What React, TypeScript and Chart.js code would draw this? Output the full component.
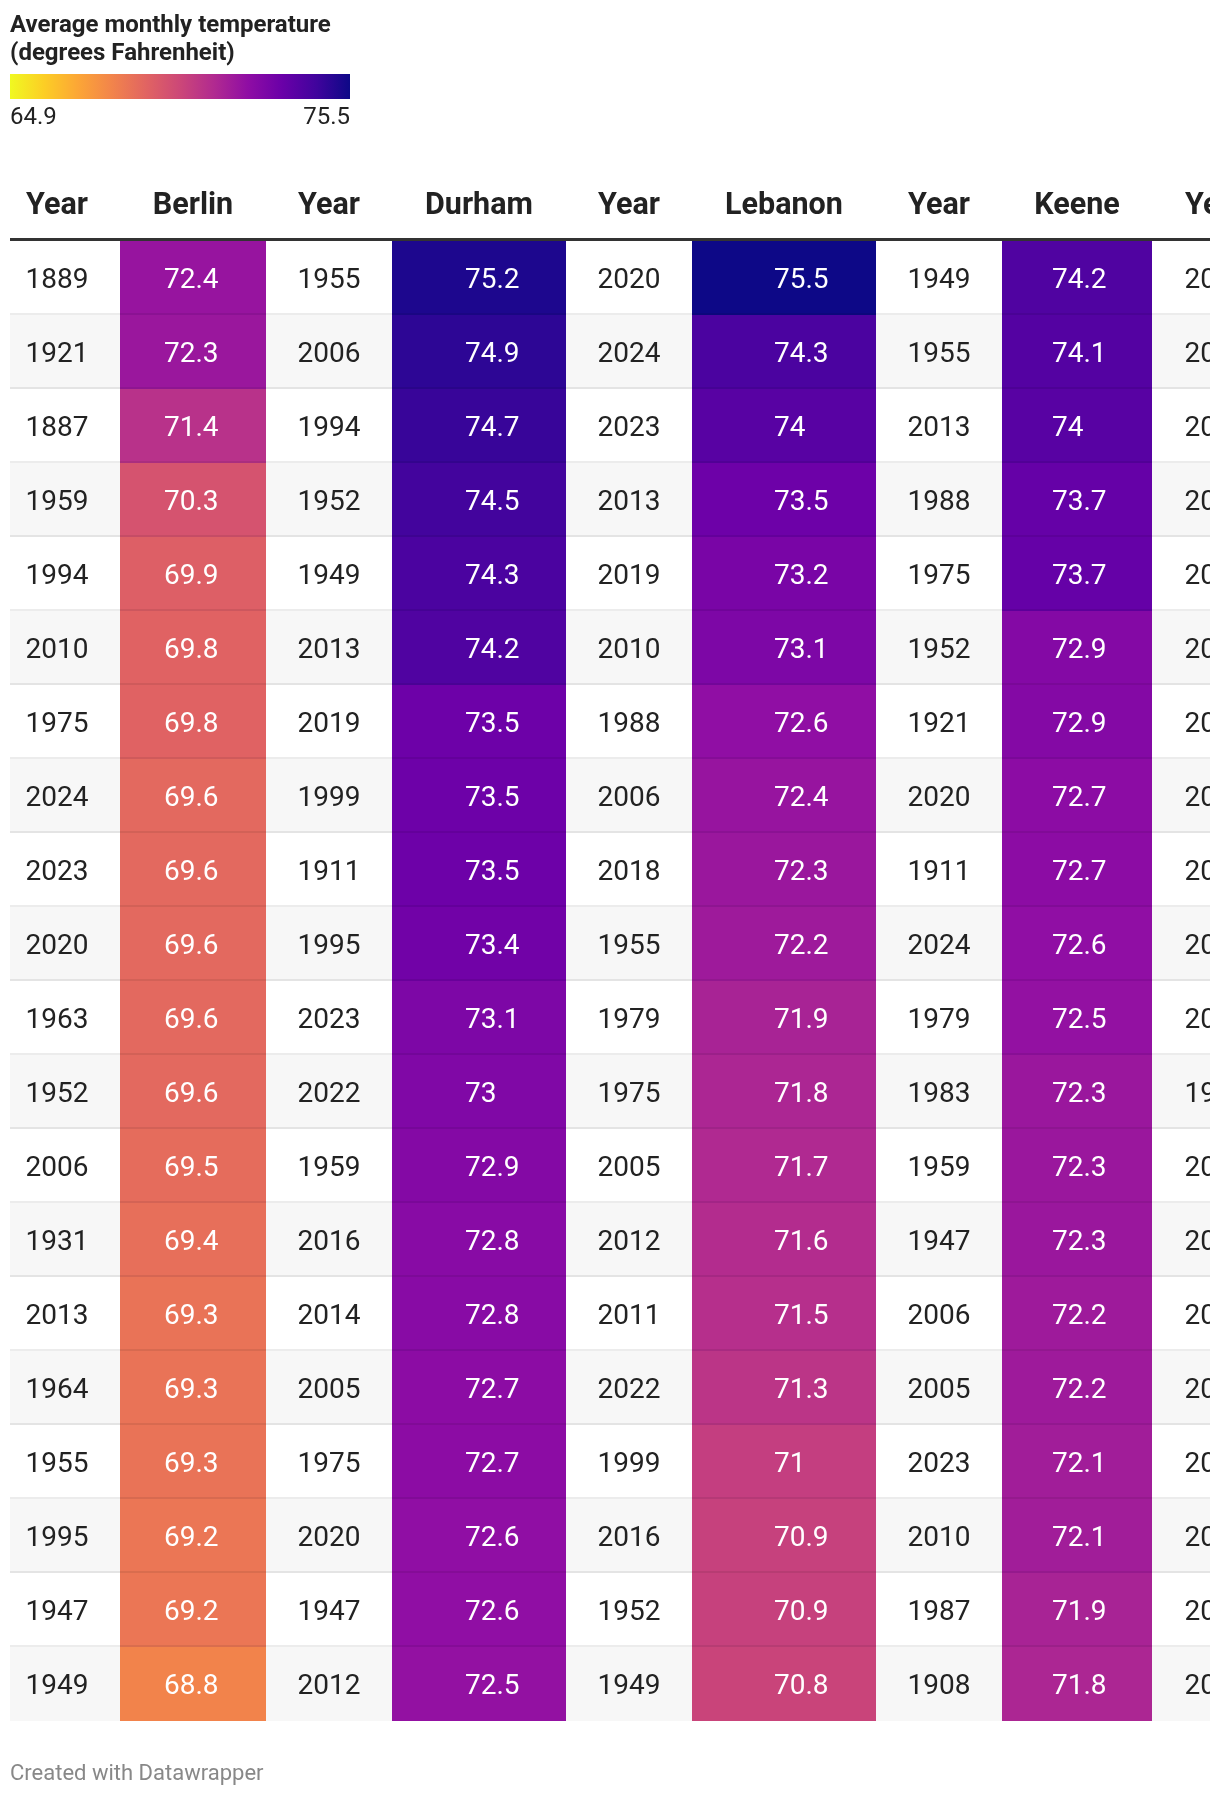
import React, { useEffect, useRef } from "react";
import { Chart, registerables } from "chart.js";

Chart.register(...registerables);

// ---------------- DATA ----------------
const CITY_NAMES = ["Berlin", "Durham", "Lebanon", "Keene"];

const YEARS_1 = [1889, 1921, 1887, 1959, 1994, 2010, 1975, 2024, 2023, 2020, 1963, 1952, 2006, 1931, 2013, 1964, 1955, 1995, 1947, 1949];
const BERLIN = [72.4, 72.3, 71.4, 70.3, 69.9, 69.8, 69.8, 69.6, 69.6, 69.6, 69.6, 69.6, 69.5, 69.4, 69.3, 69.3, 69.3, 69.2, 69.2, 68.8];

const YEARS_2 = [1955, 2006, 1994, 1952, 1949, 2013, 2019, 1999, 1911, 1995, 2023, 2022, 1959, 2016, 2014, 2005, 1975, 2020, 1947, 2012];
const DURHAM = [75.2, 74.9, 74.7, 74.5, 74.3, 74.2, 73.5, 73.5, 73.5, 73.4, 73.1, 73, 72.9, 72.8, 72.8, 72.7, 72.7, 72.6, 72.6, 72.5];

const YEARS_3 = [2020, 2024, 2023, 2013, 2019, 2010, 1988, 2006, 2018, 1955, 1979, 1975, 2005, 2012, 2011, 2022, 1999, 2016, 1952, 1949];
const LEBANON = [75.5, 74.3, 74, 73.5, 73.2, 73.1, 72.6, 72.4, 72.3, 72.2, 71.9, 71.8, 71.7, 71.6, 71.5, 71.3, 71, 70.9, 70.9, 70.8];

const YEARS_4 = [1949, 1955, 2013, 1988, 1975, 1952, 1921, 2020, 1911, 2024, 1979, 1983, 1959, 1947, 2006, 2005, 2023, 2010, 1987, 1908];
const KEENE = [74.2, 74.1, 74, 73.7, 73.7, 72.9, 72.9, 72.7, 72.7, 72.6, 72.5, 72.3, 72.3, 72.3, 72.2, 72.2, 72.1, 72.1, 71.9, 71.8];

// fifth year column: only the first digits are visible (clipped)
const YEARS_5 = [2020, 2024, 2023, 2013, 2019, 2010, 2006, 2018, 2022, 2005, 2012, 1999, 2016, 2011, 2014, 2015, 2021, 2017, 2007, 2008];

const LEGEND_MIN = 64.9;
const LEGEND_MAX = 75.5;

// ---------------- LAYOUT / STYLE ----------------
const W = 1220;
const H = 1796;
const TABLE_LEFT = 10;
const TABLE_RIGHT = 1210;
const TABLE_TOP = 241;
const TABLE_BOTTOM = 1721;

const YEAR_COLS = [
  { x0: 10, x1: 120, cx: 57 },
  { x0: 266, x1: 392, cx: 329 },
  { x0: 566, x1: 692, cx: 629 },
  { x0: 876, x1: 1002, cx: 939 },
  { x0: 1152, x1: 1280, cx: 1216 },
];
const CITY_COLS = [
  { x0: 120, x1: 266, cx: 193, tx: 164 },
  { x0: 392, x1: 566, cx: 479, tx: 465 },
  { x0: 692, x1: 876, cx: 784, tx: 774 },
  { x0: 1002, x1: 1152, cx: 1077, tx: 1052 },
];

const PLASMA = ["#0d0887", "#41049d", "#6a00a8", "#8f0da4", "#b12a90", "#cc4778", "#e16462", "#f2844b", "#fca636", "#fcce25", "#f0f921"];
const COLOR_SPAN = 9.6;

function hexToRgb(h: string) {
  const n = parseInt(h.slice(1), 16);
  return [(n >> 16) & 255, (n >> 8) & 255, n & 255];
}
function plasma(t: number) {
  const tt = Math.max(0, Math.min(1, t)) * (PLASMA.length - 1);
  const i = Math.min(PLASMA.length - 2, Math.floor(tt));
  const f = tt - i;
  const a = hexToRgb(PLASMA[i]);
  const b = hexToRgb(PLASMA[i + 1]);
  const c = a.map((v, k) => Math.round(v + (b[k] - v) * f));
  return `rgb(${c[0]},${c[1]},${c[2]})`;
}
function colorFor(v: number) {
  return plasma((LEGEND_MAX - v) / COLOR_SPAN);
}

const ROWS = YEARS_1.map((_, i) => String(i + 1));
const YEAR_LISTS = [YEARS_1, YEARS_2, YEARS_3, YEARS_4, YEARS_5];
const CITY_LISTS = [BERLIN, DURHAM, LEBANON, KEENE];

const tablePlugin = {
  id: "tableText",
  afterDatasetsDraw(chart: any) {
    const { ctx, chartArea, scales } = chart;
    const y = scales.y;
    const x = scales.x;
    const n = ROWS.length;
    ctx.save();
    // row separators
    ctx.fillStyle = "rgba(0,0,0,0.075)";
    for (let i = 1; i < n; i++) {
      const yb = (y.getPixelForValue(i - 1) + y.getPixelForValue(i)) / 2;
      ctx.fillRect(chartArea.left, Math.round(yb) - 2, chartArea.right - chartArea.left, 2);
    }
    // header rule
    ctx.fillStyle = "#333333";
    ctx.fillRect(chartArea.left, chartArea.top - 3, chartArea.right - chartArea.left, 3);

    // clip text at the table's right edge
    ctx.beginPath();
    ctx.rect(0, 0, chartArea.right, chart.height);
    ctx.clip();

    // headers
    ctx.font = "bold 30.5px Roboto";
    ctx.fillStyle = "#222222";
    ctx.textAlign = "center";
    ctx.textBaseline = "alphabetic";
    const headerBaseline = chartArea.top - 27;
    YEAR_COLS.forEach((c) => ctx.fillText("Year", x.getPixelForValue(c.cx), headerBaseline));
    CITY_COLS.forEach((c, k) => ctx.fillText(CITY_NAMES[k], x.getPixelForValue(c.cx), headerBaseline));

    // body
    ctx.font = "28px Roboto";
    for (let i = 0; i < n; i++) {
      const base = y.getPixelForValue(i) + 10;
      ctx.fillStyle = "#222222";
      ctx.textAlign = "center";
      YEAR_COLS.forEach((c, k) => ctx.fillText(String(YEAR_LISTS[k][i]), x.getPixelForValue(c.cx), base));
      ctx.fillStyle = "#ffffff";
      ctx.textAlign = "left";
      CITY_COLS.forEach((c, k) => ctx.fillText(String(CITY_LISTS[k][i]), x.getPixelForValue(c.tx), base));
    }
    ctx.restore();
  },
};

export default function App() {
  const ref = useRef<HTMLCanvasElement>(null);

  useEffect(() => {
    if (!ref.current) return;
    const cellDatasets = CITY_COLS.map((c, k) => ({
      label: CITY_NAMES[k],
      data: CITY_LISTS[k].map(() => [c.x0, c.x1]),
      backgroundColor: CITY_LISTS[k].map((v) => colorFor(v)),
      borderWidth: 0,
      grouped: false,
      barPercentage: 1,
      categoryPercentage: 1,
      inflateAmount: 0,
      order: 1,
    }));
    const stripes = {
      label: "stripes",
      data: ROWS.map((_, i) => (i % 2 === 1 ? [TABLE_LEFT, TABLE_RIGHT] : null)),
      backgroundColor: "#f7f7f7",
      borderWidth: 0,
      grouped: false,
      barPercentage: 1,
      categoryPercentage: 1,
      inflateAmount: 0,
      order: 5,
    };
    const chart = new Chart(ref.current, {
      type: "bar",
      data: { labels: ROWS, datasets: [...cellDatasets, stripes] as any },
      options: {
        indexAxis: "y",
        responsive: false,
        maintainAspectRatio: false,
        devicePixelRatio: 1,
        animation: false,
        events: [],
        layout: {
          padding: { left: TABLE_LEFT, right: W - TABLE_RIGHT, top: TABLE_TOP, bottom: H - TABLE_BOTTOM },
        },
        scales: {
          x: { type: "linear", min: TABLE_LEFT, max: TABLE_RIGHT, display: false },
          y: { type: "category", display: false, offset: true },
        },
        plugins: { legend: { display: false }, tooltip: { enabled: false } },
      } as any,
      plugins: [tablePlugin],
    });
    return () => chart.destroy();
  }, []);

  const gradient = `linear-gradient(to right, ${PLASMA.slice().reverse().map((c, i) => `${c} ${i * 10}%`).join(", ")})`;

  return (
    <div style={{ position: "absolute", left: 0, top: 0, width: W, height: H, background: "#fff", fontFamily: "Roboto, sans-serif", overflow: "hidden" }}>
      <canvas ref={ref} width={W} height={H} style={{ position: "absolute", left: 0, top: 0, width: W, height: H }} />
      <div style={{ position: "absolute", left: 10, top: 11, fontSize: 24, fontWeight: 700, lineHeight: "27.5px", color: "#222" }}>
        Average monthly temperature
        <br />
        (degrees Fahrenheit)
      </div>
      <div style={{ position: "absolute", left: 10, top: 74, width: 340, height: 25, background: gradient }} />
      <div style={{ position: "absolute", left: 10, top: 104, fontSize: 24, lineHeight: "24px", color: "#222" }}>{LEGEND_MIN}</div>
      <div style={{ position: "absolute", left: 10, top: 104, width: 340, textAlign: "right", fontSize: 24, lineHeight: "24px", color: "#222" }}>{LEGEND_MAX}</div>
      <div style={{ position: "absolute", left: 10, top: 1762, fontSize: 22, lineHeight: "22px", color: "#888" }}>Created with Datawrapper</div>
    </div>
  );
}
